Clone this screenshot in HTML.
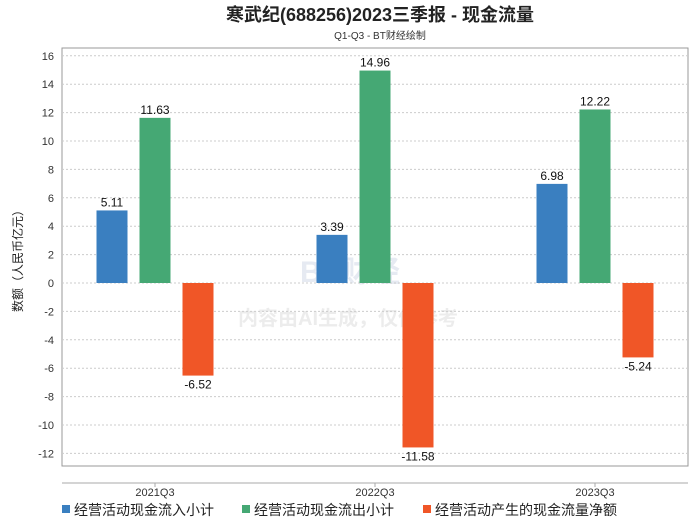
<!DOCTYPE html>
<html><head><meta charset="utf-8"><style>
body{margin:0;background:#fff;font-family:"Liberation Sans","Noto Sans CJK SC",sans-serif;}
</style></head><body>
<svg id="c" width="700" height="524" xmlns="http://www.w3.org/2000/svg">
<text x="380" y="21" text-anchor="middle" font-size="18" font-weight="bold" fill="#222">寒武纪(688256)2023三季报 - 现金流量</text>
<text x="380" y="39" text-anchor="middle" font-size="10" fill="#333">Q1-Q3 - BT财经绘制</text>
<rect x="62" y="48" width="626" height="418" fill="none" stroke="#999"/>
<line x1="62" y1="483" x2="688" y2="483" stroke="#aaa"/>
<text transform="translate(22,258) rotate(-90)" text-anchor="middle" font-size="12" fill="#222">数额（人民币亿元）</text>
<text x="350" y="282" text-anchor="middle" font-size="30" fill="#e6eaf2" font-weight="bold">BT财经</text>
<text x="348" y="325" text-anchor="middle" font-size="20" fill="#ececec" font-weight="bold">内容由AI生成，仅供参考</text>
<g id="grid"></g><g id="bars"></g>
<g font-size="14" fill="#222">
<rect x="62" y="505" width="8" height="8" fill="#3a7fc0"/>
<text x="74" y="515">经营活动现金流入小计</text>
<rect x="242" y="505" width="8" height="8" fill="#45a874"/>
<text x="254" y="515">经营活动现金流出小计</text>
<rect x="423" y="505" width="8" height="8" fill="#f05627"/>
<text x="435" y="515">经营活动产生的现金流量净额</text>
</g>
</svg>
<script>
const categories=["2021Q3","2022Q3","2023Q3"];
const inflow=[5.11,3.39,6.98];
const outflow=[11.63,14.96,12.22];
const net=[-6.52,-11.58,-5.24];
const yTicks=[16,14,12,10,8,6,4,2,0,-2,-4,-6,-8,-10,-12];
const NS="http://www.w3.org/2000/svg";
const y=v=>283-v*14.2;
const xc=i=>155+i*220;
function mk(t,a,p){const e=document.createElementNS(NS,t);for(const k in a)e.setAttribute(k,a[k]);p.appendChild(e);return e;}
const g=document.getElementById('grid'),b=document.getElementById('bars');
yTicks.forEach(v=>{
 const l=mk('line',{x1:62,x2:688,y1:y(v),y2:y(v),stroke:'#ccc','stroke-dasharray':'2,2'},g);
 
 
 const t=mk('text',{x:54,y:y(v)+4,'text-anchor':'end','font-size':11,fill:'#333'},g);
 t.textContent=v;
 
 
});
const series=[[inflow,'#3a7fc0','inflow'],[outflow,'#45a874','outflow'],[net,'#f05627','net']];
categories.forEach((c,i)=>{
 const t=mk('text',{x:xc(i),y:496,'text-anchor':'middle','font-size':11,fill:'#333'},g);
 t.textContent=c;
 
 
 mk('line',{x1:xc(i),x2:xc(i),y1:483,y2:487,stroke:'#aaa'},g);
 series.forEach((s,j)=>{
  const v=s[0][i],x=xc(i)+(j-1)*43-15.5;
  const r=mk('rect',{x:x,width:31,y:Math.min(y(v),y(0)),height:Math.abs(y(v)-y(0)),fill:s[1]},b);
  
  
  const lb=mk('text',{x:x+15.5,y:v>=0?y(v)-4:y(v)+13,'text-anchor':'middle','font-size':12,fill:'#111'},b);
  lb.textContent=v.toFixed(2);
  
  
 });
});
</script>
</body></html>
